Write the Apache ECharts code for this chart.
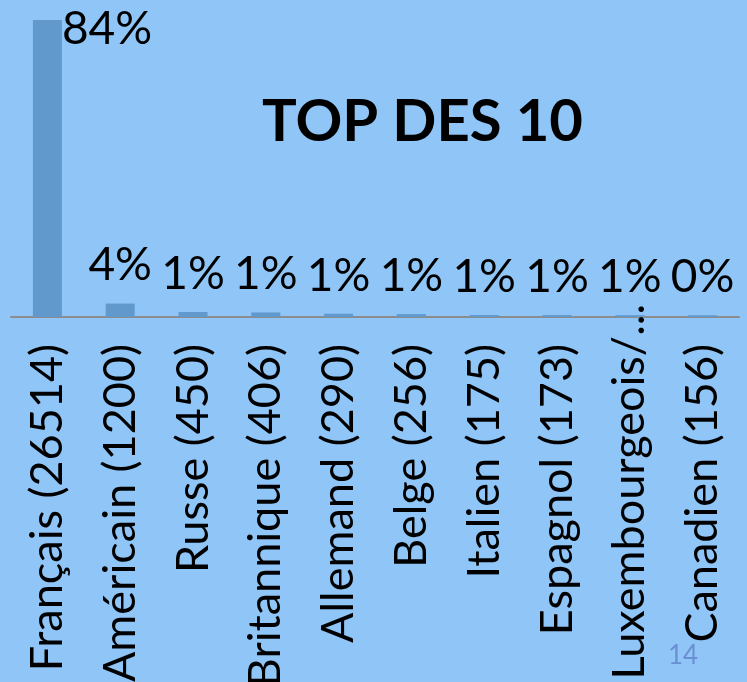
<!DOCTYPE html>
<html>
<head>
<meta charset="utf-8">
<script src="https://cdn.jsdelivr.net/npm/echarts@6/dist/echarts.min.js"></script>
<style>
html,body{margin:0;padding:0;background:#8fc5f7;}
#chart{width:747px;height:682px;}
</style>
</head>
<body>
<div id="chart"></div>
<script>
const categories = ['Français (26514)', 'Américain (1200)', 'Russe (450)', 'Britannique (406)', 'Allemand (290)', 'Belge (256)', 'Italien (175)', 'Espagnol (173)', 'Luxembourgeois/...', 'Canadien (156)'];
const counts = [26514, 1200, 450, 406, 290, 256, 175, 173, 165, 156];
const pctLabels = ['84%', '4%', '1%', '1%', '1%', '1%', '1%', '1%', '1%', '0%'];
const titleText = 'TOP DES 10';
const pageNumber = '14';

const chart = echarts.init(document.getElementById('chart'));
const labelFont = 'Lato';
chart.setOption({
  backgroundColor: '#8fc5f7',
  animation: false,
  title: {
    text: titleText,
    left: 257,
    top: 88,
    textStyle: { fontFamily: labelFont, fontWeight: 'bold', fontSize: 58, color: '#000' }
  },
  grid: { left: 11, right: 8, top: 20, bottom: 365, containLabel: false, outerBoundsMode: 'none' },
  xAxis: {
    type: 'category',
    data: categories.map((c, i) => i === 8
      ? { value: c, textStyle: { padding: [0, -40, 0, 0] } }
      : c),
    axisLine: { show: true, lineStyle: { color: '#8c8c8c', width: 2 } },
    axisTick: { show: false },
    axisLabel: {
      interval: 0,
      rotate: 90,
      margin: 27,
      fontFamily: labelFont,
      fontSize: 45,
      color: '#000'
    }
  },
  yAxis: {
    type: 'value',
    min: 0,
    max: 'dataMax',
    show: false,
    splitLine: { show: false }
  },
  series: [{
    type: 'bar',
    barWidth: 29,
    itemStyle: { color: '#6299cd' },
    label: {
      show: true,
      position: 'top',
      distance: 15,
      fontFamily: labelFont,
      fontSize: 46,
      color: '#000',
      formatter: p => pctLabels[p.dataIndex]
    },
    data: counts.map((v, i) => i === 0
      ? { value: v, label: { position: [29, -14], align: 'left', verticalAlign: 'top' } }
      : v)
  }],
  graphic: [{
    type: 'text',
    left: 668,
    top: 643,
    style: { text: pageNumber, fontFamily: labelFont, fontSize: 26, fill: '#6b8fd3' }
  }]
});
</script>
</body>
</html>
